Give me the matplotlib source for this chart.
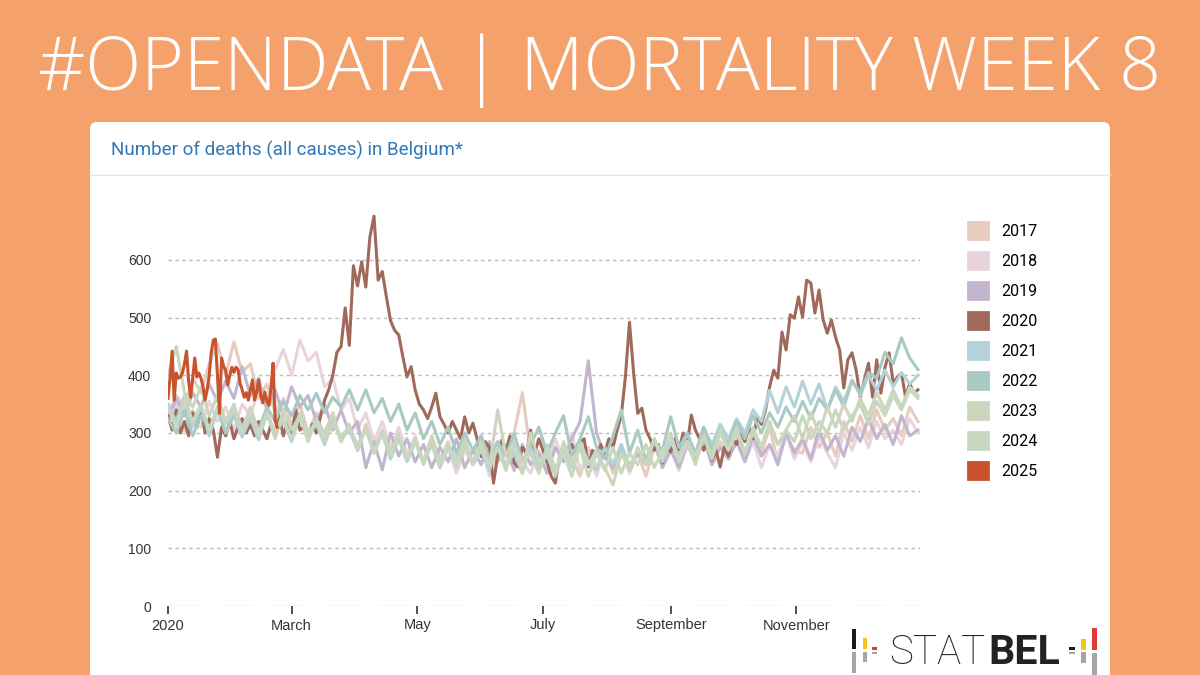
import numpy as np
import pandas as pd
import matplotlib
matplotlib.use("Agg")
import matplotlib.pyplot as plt
from matplotlib.patches import FancyBboxPatch, Rectangle, Patch

# =====================
# Data
# =====================
years = ["2017", "2018", "2019", "2020", "2021", "2022", "2023", "2024", "2025"]
colors = ["#E6CBBE", "#EAD4DB", "#C2B5CF", "#A0695A", "#B4D2D9",
          "#A9C9C3", "#CCD6BC", "#C8D8C0", "#C8532C"]

# background years, one value every 4 days
deaths_2017 = [330, 365, 345, 395, 370, 420, 455, 400, 458, 405,
               420, 360, 385, 335, 360,
               315, 350, 300, 335, 290, 325, 285, 310,
               270, 315, 280, 300, 255, 305, 265, 290,
               250, 295, 255, 285, 240, 280, 250,
               295, 245, 285, 240, 300, 370, 265, 240,
               280, 235, 270, 255, 225, 275, 240, 270,
               230, 280, 245, 265, 225, 275, 250,
               290, 240, 280, 255, 300, 245, 285, 260,
               300, 255, 290, 265, 310, 250, 295, 270,
               265, 310, 275, 300, 260, 320, 285,
               330, 290, 340, 305, 325, 295, 345, 320]
deaths_2018 = [320, 350, 300, 340, 310, 355, 320, 345, 305, 350,
               330, 375, 350, 410, 445, 400, 461, 425, 440, 380,
               395, 340, 360,
               305, 335, 285, 320, 275, 310, 265, 295,
               250, 285, 240, 275, 230, 270, 245,
               280, 225, 265, 240, 285, 250, 230, 270,
               240, 290, 250, 300, 235, 265, 225, 275,
               245, 280, 230, 270, 250, 285, 240,
               275, 235, 280, 250, 290, 245, 275, 255,
               295, 250, 285, 240, 280, 260, 300, 255,
               285, 250, 295, 265, 240, 300, 270,
               310, 275, 320, 290, 305, 280, 325, 300]
deaths_2019 = [325, 360, 330, 370, 345, 385, 355, 390, 360, 415,
               365, 395, 340, 375, 330, 380, 345, 365, 320, 350, 305, 340, 300,
               320, 240, 285, 236, 300, 260, 290, 250,
               280, 240, 275, 250, 290, 240, 270,
               245, 285, 250, 275, 235, 280, 245, 265,
               230, 275, 250, 290, 320, 425, 300, 260,
               240, 275, 235, 265, 245, 285, 240,
               270, 240, 280, 250, 290, 245, 275, 255,
               285, 250, 295, 260, 280, 245, 300, 265,
               290, 255, 305, 270, 295, 260, 310,
               285, 325, 290, 315, 280, 330, 295, 305]
deaths_2021 = [350, 320, 365, 310, 345, 295, 340, 300, 330, 293,
               325, 288, 335, 300, 320, 285, 330, 295, 315, 280, 320, 290, 305,
               270, 310, 265, 300, 255, 290, 250, 285,
               248, 280, 240, 275, 255, 290, 245,
               270, 235, 280, 241, 265, 230, 275, 245,
               260, 225, 270, 240, 285, 250, 235, 275,
               245, 280, 240, 270, 255, 290, 250,
               285, 260, 300, 265, 310, 280, 315, 290,
               325, 300, 340, 320, 374, 335, 380, 345,
               390, 350, 385, 340, 380, 355, 392,
               365, 400, 375, 409, 380, 405, 385, 400]
deaths_2022 = [325, 300, 340, 295, 330, 305, 345, 300, 335, 310,
               340, 305, 345, 320, 355, 330, 365, 340, 369, 335, 362, 345, 375,
               340, 375, 335, 360, 320, 350, 305, 335,
               290, 320, 280, 310, 265, 300, 270,
               295, 255, 285, 260, 300, 250, 280, 310,
               265, 300, 330, 260, 290, 328, 275, 255,
               295, 340, 265, 305, 250, 285, 270,
               328, 275, 300, 260, 310, 270, 305, 280,
               320, 290, 330, 300, 335, 310, 345, 320,
               355, 325, 360, 340, 375, 345, 390,
               370, 405, 395, 440, 420, 465, 430, 410]
deaths_2023 = [400, 450, 370, 345, 380, 330, 365, 320, 350, 305,
               345, 300, 335, 290, 340, 305, 330, 285, 325, 300, 335, 285, 315,
               270, 310, 265, 305, 260, 295, 255, 290,
               245, 285, 240, 280, 250, 290, 245,
               275, 240, 340, 260, 285, 230, 300, 250,
               270, 230, 285, 245, 275, 225, 265, 240,
               210, 265, 235, 275, 245, 290, 255,
               300, 250, 285, 245, 295, 260, 305, 270,
               300, 265, 310, 275, 320, 280, 305, 330,
               290, 335, 300, 345, 310, 350, 320,
               360, 330, 370, 340, 375, 345, 380, 365]
deaths_2024 = [345, 310, 360, 320, 350, 305, 345, 315, 340, 300,
               335, 295, 330, 305, 325, 290, 335, 300, 320, 285, 315, 295, 310,
               280, 305, 265, 300, 270, 295, 255, 285,
               250, 290, 245, 280, 240, 275, 250,
               285, 240, 275, 235, 280, 250, 265, 230,
               275, 240, 265, 225, 280, 245, 270, 235,
               275, 230, 265, 245, 280, 240, 270,
               290, 250, 285, 260, 295, 255, 300, 270,
               310, 265, 300, 275, 315, 280, 305, 285,
               330, 290, 320, 300, 340, 305, 330,
               350, 315, 355, 330, 365, 340, 375, 360]

# 2020, one value every 2 days
deaths_2020 = [330, 305, 340, 300, 320, 295, 335, 310, 345, 300,
               325, 305, 258, 310, 295, 320, 290, 310, 325, 300,
               315, 295, 320, 305, 290, 315, 300, 330, 295, 320,
               293, 340, 305, 310, 288, 315, 300, 328, 357, 375,
               400, 440, 450, 517, 452, 590, 555, 597, 553, 640,
               676, 565, 580, 536, 495, 478, 470, 432, 397, 415,
               374, 350, 340, 325, 345, 369, 328, 315, 300, 320,
               305, 290, 328, 300, 317, 290, 259, 285, 275, 213,
               260, 288, 270, 295, 248, 241, 275, 265, 305, 265,
               290, 270, 250, 225, 213, 259, 270, 250, 280, 265,
               283, 290, 241, 270, 260, 280, 265, 290, 275, 305,
               330, 397, 492, 404, 334, 343, 305, 290, 270, 280,
               248, 275, 267, 290, 270, 300, 280, 331, 305, 290,
               270, 285, 253, 270, 241, 275, 260, 290, 280, 300,
               285, 310, 290, 328, 315, 340, 380, 409, 395, 475,
               444, 505, 499, 536, 501, 565, 560, 508, 548, 496,
               473, 496, 466, 444, 378, 427, 439, 409, 362, 392,
               421, 362, 427, 369, 414, 439, 386, 397, 404, 362,
               386, 369, 375]

# 2025, daily up to week 8
deaths_2025 = [360, 395, 442, 357, 404, 395, 397, 404, 420, 442,
               390, 362, 395, 430, 397, 404, 395, 380, 357, 375,
               400, 440, 461, 463, 400, 334, 430, 415, 409, 383,
               400, 414, 405, 414, 410, 386, 375, 362, 370, 357,
               375, 392, 357, 370, 392, 365, 352, 371, 355, 348,
               380, 421, 322, 310]

series = [(deaths_2017, "4D"), (deaths_2018, "4D"), (deaths_2019, "4D"),
          (deaths_2020, "2D"), (deaths_2021, "4D"), (deaths_2022, "4D"),
          (deaths_2023, "4D"), (deaths_2024, "4D"), (deaths_2025, "D")]

month_ticks = ["2020-01-01", "2020-03-01", "2020-05-01", "2020-07-01", "2020-09-01", "2020-11-01"]
month_labels = ["2020", "March", "May", "July", "September", "November"]

# =====================
# Figure + background card (pixel coords)
# =====================
W, H = 1200, 675
fig = plt.figure(figsize=(12, 6.75), dpi=100, facecolor="#F4A16C")
bg = fig.add_axes([0, 0, 1, 1])
bg.set_xlim(0, W)
bg.set_ylim(H, 0)
bg.axis("off")

bg.add_patch(FancyBboxPatch((90, 122), 1020, 580, boxstyle="round,pad=0,rounding_size=7",
                            fc="white", ec="none"))
bg.plot([90, 1110], [175, 175], color="#E6E6E6", lw=1)
bg.text(111, 150, "Number of deaths (all causes) in Belgium*", color="#2F78B8",
        fontsize=13.5, family="Roboto", va="center", ha="left")

renderer = fig.canvas.get_renderer()

# big banner title, scaled to span the banner width
title = bg.text(600, 90, "#OPENDATA | MORTALITY WEEK 8", color="white", fontsize=50,
                family="Open Sans", weight="light", va="baseline", ha="center")
tw = title.get_window_extent(renderer).width
title.set_fontsize(50 * 1125 / tw)

# STATBEL logo
def bar(x0, y0, x1, y1, c):
    bg.add_patch(Rectangle((x0, y0), x1 - x0, y1 - y0, fc=c, ec="none"))

bar(852, 629, 856, 649, "#1A1A1A")
bar(852, 652, 856, 673, "#A6A6A6")
bar(863, 638, 867, 649, "#F5C518")
bar(863, 652, 867, 662, "#A6A6A6")
bar(872, 647, 877, 649.5, "#E03A34")
bar(872, 651.5, 877, 653.5, "#A6A6A6")
bar(1069, 647, 1075, 649.5, "#1A1A1A")
bar(1069, 651.5, 1075, 653.5, "#A6A6A6")
bar(1081, 639, 1086, 650, "#F5C518")
bar(1081, 652, 1086, 663, "#A6A6A6")
bar(1092, 628, 1097, 650, "#E03A34")
bar(1092, 653, 1097, 675, "#A6A6A6")
stat = bg.text(889, 653, "STAT", color="#222222", fontsize=31, family="Roboto",
               weight="light", va="center", ha="left")
sw = stat.get_window_extent(renderer).width
stat.set_fontsize(31 * 96 / sw)
bel = bg.text(1060, 653, "BEL", color="#222222", fontsize=31, family="Roboto",
              weight="bold", va="center", ha="right")
bw = bel.get_window_extent(renderer).width
bel.set_fontsize(31 * 72 / bw)

# =====================
# Chart
# =====================
ax = fig.add_axes([168 / W, (H - 606) / H, 752 / W, 406 / H])
ax.set_facecolor("none")
for s in ax.spines.values():
    s.set_visible(False)

for (vals, step), year, c in zip(series, years, colors):
    x = pd.date_range("2020-01-01", periods=len(vals), freq=step)
    ax.plot(x, vals, color=c, lw=2.2, solid_joinstyle="round", label=year)

ax.set_xlim(pd.Timestamp("2020-01-01"), pd.Timestamp("2020-12-31"))
ax.set_ylim(0, 704)
ax.set_yticks(range(0, 700, 100))
ax.yaxis.grid(True, color="#BBBBBB", linestyle=(0, (2.5, 2.5)), lw=1)
ax.set_axisbelow(True)
ax.set_xticks(pd.to_datetime(month_ticks))
ax.set_xticklabels(month_labels)
ax.tick_params(axis="x", length=6, width=1.2, color="#333333", pad=3,
               labelsize=10.5, labelcolor="#333333")
ax.tick_params(axis="y", length=0, pad=12, labelsize=10, labelcolor="#333333")
for lab in ax.get_xticklabels() + ax.get_yticklabels():
    lab.set_family("Liberation Sans")

handles = [Patch(fc=c, ec=c, lw=2, joinstyle="round") for c in colors]
fig.legend(handles, years, loc="upper left", bbox_to_anchor=(960 / W, 1 - 214 / H),
           frameon=False, handlelength=1.25, handleheight=1.25,
           handletextpad=0.85, labelspacing=0.82, borderpad=0,
           prop={"family": "Roboto", "size": 11.5})

fig.savefig("out.png", dpi=100, facecolor=fig.get_facecolor())
